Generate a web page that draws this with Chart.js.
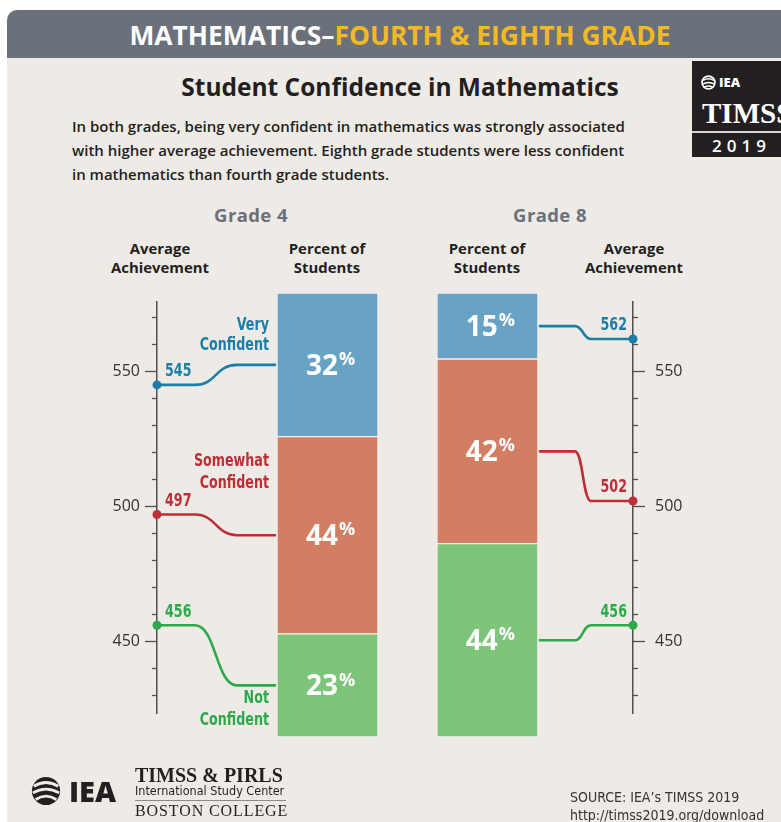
<!DOCTYPE html>
<html>
<head>
<meta charset="utf-8">
<script src="https://cdn.jsdelivr.net/npm/chart.js@4.4.0/dist/chart.umd.min.js"></script>
<style>
  html, body { margin: 0; padding: 0; background: #fff; }
  #page { position: relative; width: 781px; height: 822px; overflow: hidden; background: #fff;
          font-family: 'Open Sans', sans-serif; color: #231f20; }
  #panel { position: absolute; left: 7px; top: 10px; right: 0; bottom: 0; background: #eeebe7;
           border-top-left-radius: 10px; }
  #banner { position: absolute; left: 7px; top: 10px; right: 0; height: 48px; background: #6b717a;
            border-top-left-radius: 10px; }
  #banner div { position: absolute; left: -7px; width: 800px; top: 0; line-height: 50px; text-align: center;
                font-weight: 700; font-size: 26.4px; color: #fff; }
  #banner span { color: #f3b924; }
  .t { position: absolute; white-space: nowrap; }
  #title { left: 0; width: 800px; top: 70px; text-align: center; font-size: 24.5px; font-weight: 700; }
  #desc { left: 72px; top: 114px; font-size: 15px; font-weight: 600; line-height: 24px; }
  .grade { top: 202px; font-size: 18.5px; font-weight: 700; color: #6b717a; width: 200px; text-align: center; letter-spacing: 0.4px; }
  .head { top: 239px; font-size: 14.9px; font-weight: 700; line-height: 19px; width: 160px; text-align: center; }
  #chartBox { position: absolute; left: 0; top: 0; }
  #timss { position: absolute; left: 692px; top: 61px; width: 100px; height: 96px; background: #231f20; color: #fff; }
  #timss .iea { position: absolute; left: 27px; top: 13px; font-size: 13px; font-weight: 800; line-height: 16px; }
  #timss .name { position: absolute; left: 10px; top: 36px; font-family: 'Liberation Serif', serif; font-weight: 700;
                 font-size: 29px; line-height: 32px; }
  #timss .rule { position: absolute; left: 0; top: 70px; width: 100px; height: 2px; background: #d8d5d0; }
  #timss .year { position: absolute; left: 20px; top: 73px; font-size: 17px; letter-spacing: 5px; line-height: 23px; font-weight: 600; }
  #footLogo { position: absolute; left: 30px; top: 774px; }
  .serif { font-family: 'Liberation Serif', serif; }
  .narrow { font-family: 'Liberation Sans Narrow', 'DejaVu Sans Condensed', sans-serif; }
  #source { left: 570px; top: 788px; font-size: 14px; line-height: 18px; color: #333; }
</style>
</head>
<body>
<div id="page">
  <div id="panel"></div>
  <div id="banner"><div>MATHEMATICS–<span>FOURTH &amp; EIGHTH GRADE</span></div></div>

  <div class="t" id="title">Student Confidence in Mathematics</div>
  <div class="t" id="desc">In both grades, being very confident in mathematics was strongly associated<br>with higher average achievement. Eighth grade students were less confident<br>in mathematics than fourth grade students.</div>

  <div id="timss">
    <svg style="position:absolute;left:9px;top:14px" width="15" height="15" viewBox="0 0 14 14">
      <circle cx="7" cy="7" r="6" fill="none" stroke="#fff" stroke-width="1.6"/>
      <path d="M2 5 Q7 2 12 5 M1.5 8.5 Q7 5.5 12.5 8.5 M3 11.5 Q7 9 11 11.5" fill="none" stroke="#fff" stroke-width="1.4"/>
    </svg>
    <div class="iea">IEA</div>
    <div class="name">TIMSS</div>
    <div class="rule"></div>
    <div class="year">2019</div>
  </div>

  <div class="t grade" style="left:151px">Grade 4</div>
  <div class="t grade" style="left:450px">Grade 8</div>
  <div class="t head" style="left:80px">Average<br>Achievement</div>
  <div class="t head" style="left:247px">Percent of<br>Students</div>
  <div class="t head" style="left:407px">Percent of<br>Students</div>
  <div class="t head" style="left:554px">Average<br>Achievement</div>

  <div id="chartBox"><canvas id="confidence-chart" width="781" height="822"></canvas></div>

  <svg id="footLogo" width="32" height="34" viewBox="0 0 34 34">
    <circle cx="17" cy="17" r="15" fill="#231f20"/>
    <path d="M4 12 Q17 4 30 12 M3 19 Q17 11 31 19 M6 26 Q17 19 28 26" fill="none" stroke="#eeebe7" stroke-width="3"/>
  </svg>
  <div class="t" style="left:69px;top:773px;font-size:29px;font-weight:800;line-height:36px">IEA</div>
  <div class="t serif" style="left:135px;top:764px;font-size:20px;font-weight:700;line-height:22px">TIMSS &amp; PIRLS</div>
  <div class="t narrow" style="left:135px;top:783px;font-size:12.5px;line-height:16px">International Study Center</div>
  <div class="t" style="left:135px;top:800px;width:151px;height:1px;background:#8a8a8a"></div>
  <div class="t serif" style="left:135px;top:801px;font-size:16px;line-height:20px;letter-spacing:0.9px">BOSTON COLLEGE</div>
  <div class="t narrow" id="source">SOURCE: IEA’s TIMSS 2019<br>http://timss2019.org/download</div>
</div>

<script>
  // Student confidence categories, top of each bar first
  const grades = ['Grade 4', 'Grade 8'];
  const levels = ['Very Confident', 'Somewhat Confident', 'Not Confident'];
  const levelLines = [['Very', 'Confident'], ['Somewhat', 'Confident'], ['Not', 'Confident']];

  // Percent of students in each category
  const pctGrade4 = [32, 44, 23];
  const pctGrade8 = [15, 42, 44];

  // Average mathematics achievement in each category
  const scoreGrade4 = [545, 497, 456];
  const scoreGrade8 = [562, 502, 456];

  // Achievement scale: labelled ticks, minor step and range
  const scoreTicks = [450, 500, 550];
  const scoreStep = 10;
  const scoreMin = 423.5;
  const scoreMax = 575.7;

  const pcts = [pctGrade4, pctGrade8];
  const scores = [scoreGrade4, scoreGrade8];

  const fills = ['#68a3c6', '#d37e62', '#7dc57b'];
  const inks = ['#1b7ea8', '#bf2e36', '#2ca94b'];
  const narrow = "'Liberation Sans Narrow', 'DejaVu Sans Condensed', sans-serif";

  // category label offsets from the connector end (two lines each)
  const levelLabelDy = [[-39, -19], [-74, -52], [13, 35]];

  const sum = arr => arr.reduce((a, b) => a + b, 0);

  // one stacked bar per grade, bottom segment first
  const datasets = [];
  grades.forEach(function (grade, g) {
    for (let c = levels.length - 1; c >= 0; c--) {
      datasets.push({
        label: levels[c],
        grade: g,
        level: c,
        data: [{ x: g + 1, y: pcts[g][c] }],
        backgroundColor: fills[c],
        borderColor: '#f5f3f0',
        borderWidth: 1,
        borderSkipped: false,
        xAxisID: 'x',
        yAxisID: g === 0 ? 'pct4' : 'pct8',
        stack: grade,
        grouped: false,
        barThickness: 101,
        barPercentage: 1,
        categoryPercentage: 1,
        clip: false
      });
    }
  });

  // bars run a little past both ends of the achievement axes
  function pctScale(values) {
    return { type: 'linear', display: false, stacked: true, min: 0.054 * sum(values), max: 0.98 * sum(values) };
  }

  function scoreScale(position, padding, width) {
    return {
      type: 'linear',
      position: position,
      min: scoreMin,
      max: scoreMax,
      afterFit: function (scale) { scale.width = width; },
      grid: { display: true, drawOnChartArea: false, drawTicks: false },
      border: { display: true, color: '#4f4f4f', width: 1.5 },
      ticks: {
        stepSize: scoreStep,
        autoSkip: false,
        padding: padding,
        color: '#333',
        font: { family: 'Open Sans', size: 16 },
        callback: function (v) { return scoreTicks.includes(v) ? v : ''; }
      }
    };
  }

  function drawAxisTicks(ctx, scale, dir) {
    const x = dir < 0 ? scale.right : scale.left;
    ctx.save();
    ctx.strokeStyle = '#4f4f4f';
    ctx.lineWidth = 1.3;
    for (let v = Math.ceil(scale.min / scoreStep) * scoreStep; v <= scale.max; v += scoreStep) {
      const y = Math.round(scale.getPixelForValue(v)) + 0.5;
      const len = scoreTicks.includes(v) ? 12 : 5;
      ctx.beginPath();
      ctx.moveTo(x, y);
      ctx.lineTo(x + dir * len, y);
      ctx.stroke();
    }
    ctx.restore();
  }

  // squeezed bold text for the condensed labels
  function condensedText(ctx, text, x, y, align) {
    ctx.save();
    ctx.translate(x, y);
    ctx.scale(0.83, 1);
    ctx.font = '700 17px ' + narrow;
    ctx.textAlign = align;
    ctx.textBaseline = 'middle';
    ctx.fillText(text, 0, 0);
    ctx.restore();
  }

  function drawPercent(ctx, value, cx, cy) {
    const num = String(value);
    ctx.font = "700 28px 'Open Sans'";
    const nw = ctx.measureText(num).width;
    ctx.font = "700 18px 'Open Sans'";
    const pw = ctx.measureText('%').width;
    const x0 = cx + 3 - (nw + 1 + pw) / 2;
    ctx.fillStyle = '#fff';
    ctx.textAlign = 'left';
    ctx.textBaseline = 'middle';
    ctx.font = "700 28px 'Open Sans'";
    ctx.fillText(num, x0, cy + 2);
    ctx.font = "700 18px 'Open Sans'";
    ctx.fillText('%', x0 + nw + 1, cy - 5);
  }

  // connector curves from each segment to its achievement point
  const connectorPlugin = {
    id: 'connectors',
    afterDraw: function (chart) {
      const ctx = chart.ctx;
      const sl = chart.scales.scoreL;
      const sr = chart.scales.scoreR;
      drawAxisTicks(ctx, sl, -1);
      drawAxisTicks(ctx, sr, 1);

      chart.data.datasets.forEach(function (ds, i) {
        const bar = chart.getDatasetMeta(i).data[0];
        const p = bar.getProps(['x', 'y', 'base', 'width'], true);
        const midY = (p.y + p.base) / 2;
        const g = ds.grade, c = ds.level;
        const ink = inks[c];
        let ax, sy;

        ctx.save();
        ctx.strokeStyle = ink;
        ctx.fillStyle = ink;
        ctx.lineWidth = 2.6;
        ctx.lineCap = 'round';
        ctx.beginPath();
        if (g === 0) {
          ax = sl.right;
          sy = sl.getPixelForValue(scores[g][c]);
          const ex = p.x - p.width / 2;
          ctx.moveTo(ax, sy);
          ctx.lineTo(ax + 38, sy);
          ctx.bezierCurveTo(ax + 59, sy, ax + 59, midY, ax + 80, midY);
          ctx.lineTo(ex - 2, midY);
          ctx.stroke();

          // category name beside the bar
          levelLines[c].forEach(function (t, k) {
            condensedText(ctx, t, ex - 8, midY + levelLabelDy[c][k], 'right');
          });
        } else {
          ax = sr.left;
          sy = sr.getPixelForValue(scores[g][c]);
          const sx = p.x + p.width / 2;
          ctx.moveTo(sx + 2, midY);
          ctx.lineTo(sx + 37, midY);
          ctx.bezierCurveTo(sx + 45, midY, sx + 45, sy, sx + 53, sy);
          ctx.lineTo(ax, sy);
          ctx.stroke();
        }

        // achievement point and value
        ctx.beginPath();
        ctx.arc(ax, sy, 4.5, 0, Math.PI * 2);
        ctx.fill();
        condensedText(ctx, String(scores[g][c]), g === 0 ? ax + 8 : ax - 6, sy - 13, g === 0 ? 'left' : 'right');
        ctx.restore();

        drawPercent(ctx, pcts[g][c], p.x, midY);
      });
    }
  };

  new Chart(document.getElementById('confidence-chart').getContext('2d'), {
    type: 'bar',
    data: { datasets: datasets },
    options: {
      responsive: false,
      animation: false,
      events: [],
      layout: { padding: { left: 107, right: 88, top: 302, bottom: 109 } },
      plugins: { legend: { display: false }, tooltip: { enabled: false } },
      scales: {
        x: { type: 'linear', display: false, offset: false, min: -0.066, max: 2.91 },
        pct4: pctScale(pctGrade4),
        pct8: pctScale(pctGrade8),
        scoreL: scoreScale('left', 17, 50),
        scoreR: scoreScale('right', 22, 60)
      }
    },
    plugins: [connectorPlugin]
  });
</script>
</body>
</html>
